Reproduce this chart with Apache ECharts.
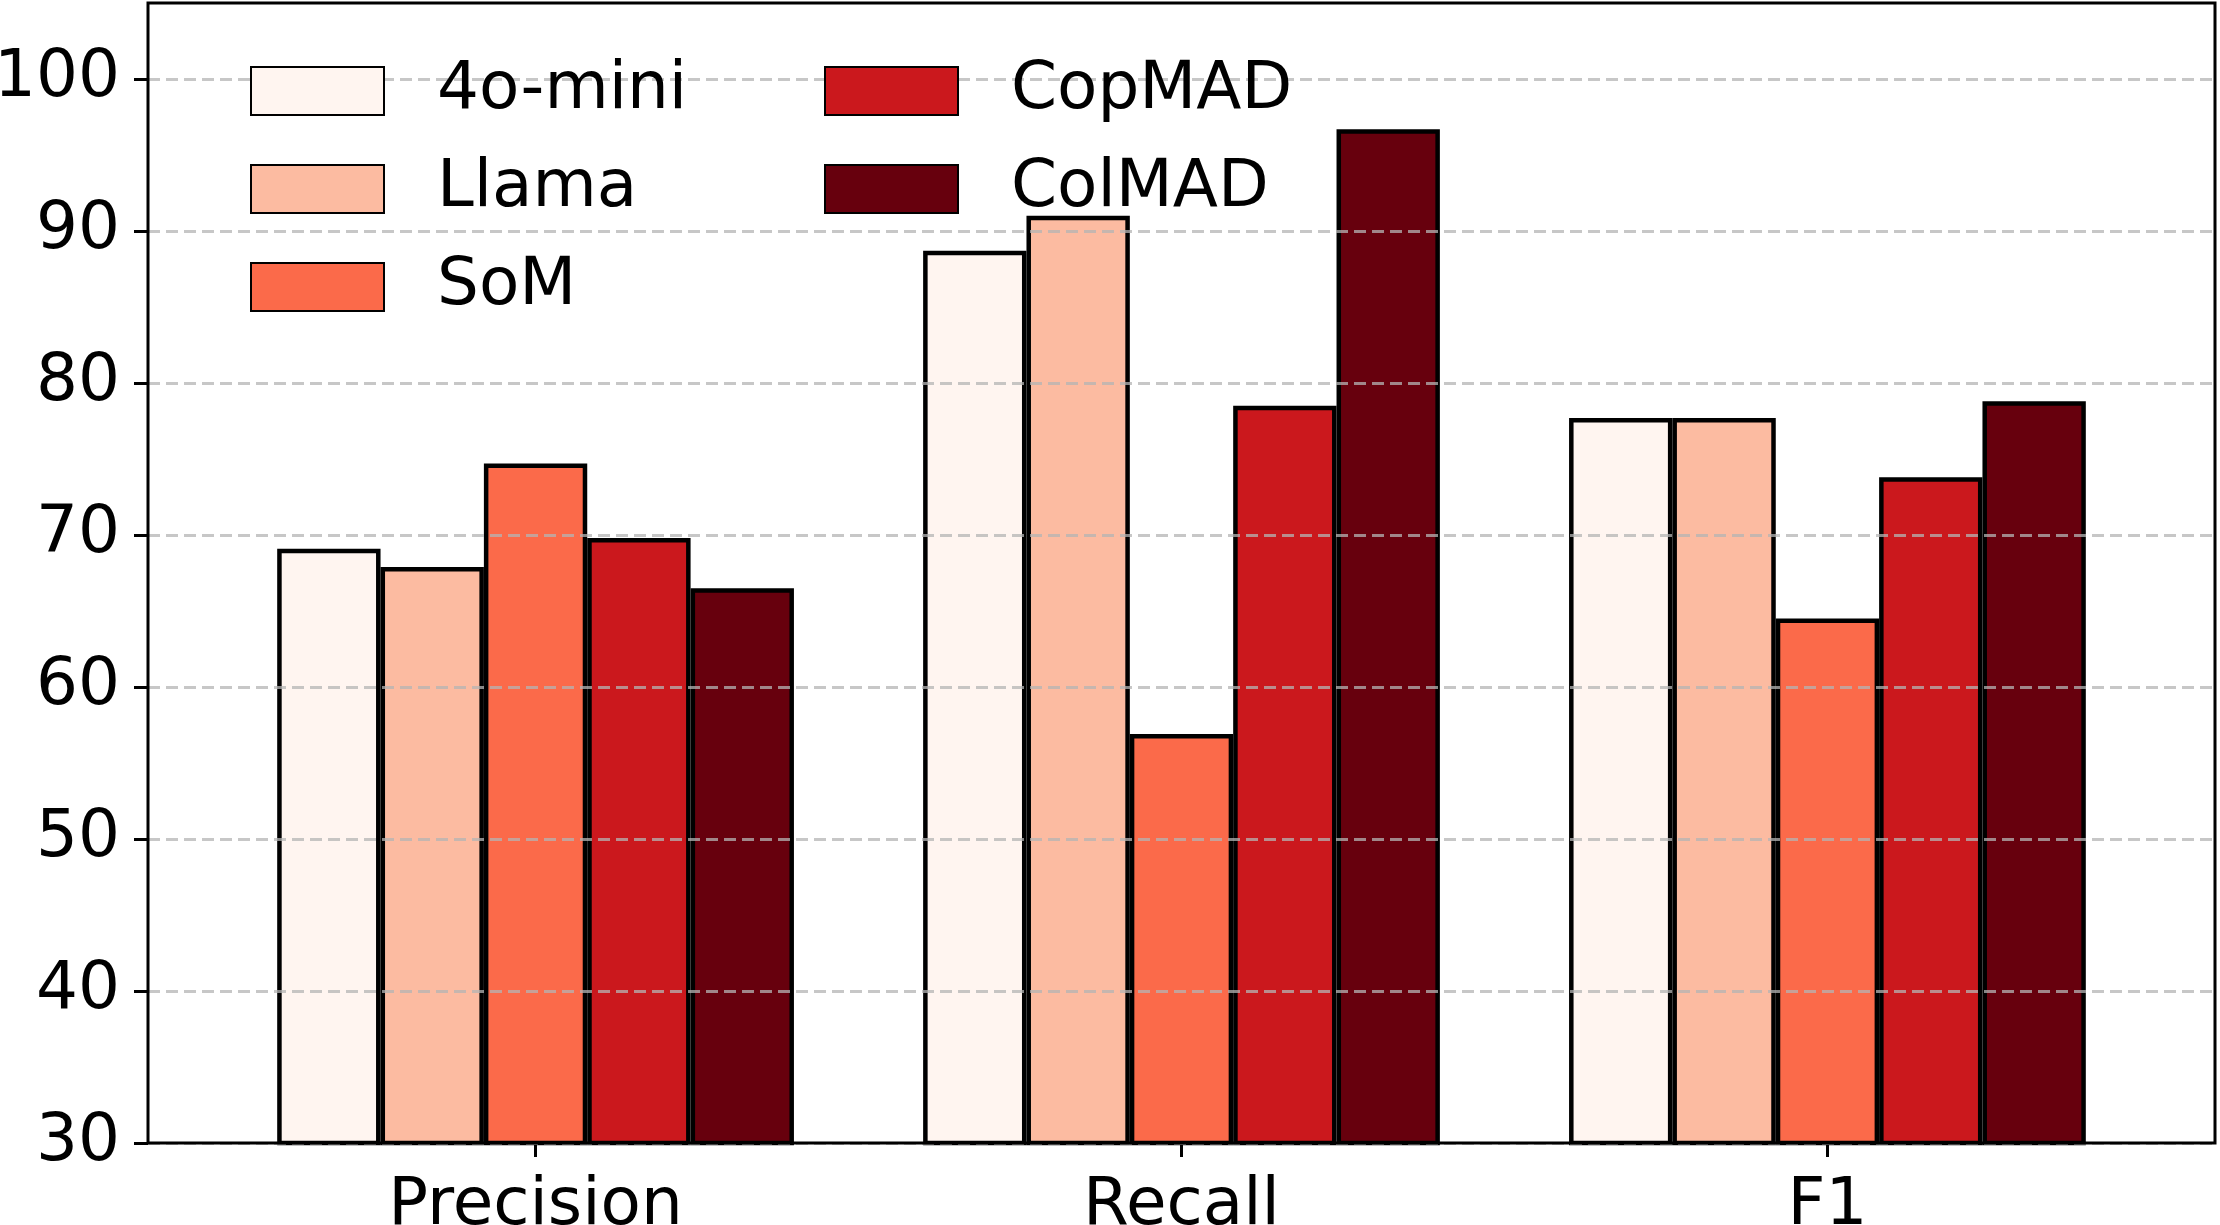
<!DOCTYPE html>
<html>
<head>
<meta charset="utf-8">
<script src="https://cdn.jsdelivr.net/npm/echarts@6/dist/echarts.min.js"></script>
<style>
html,body{margin:0;padding:0;background:#fff;}
#chart{width:2220px;height:1225px;}
</style>
</head>
<body>
<div id="chart"></div>
<script>
const categories = ['Precision', 'Recall', 'F1'];
const seriesNames = ['4o-mini', 'Llama', 'SoM', 'CopMAD', 'ColMAD'];
const vals4oMini = [69.1, 88.7, 77.7];
const valsLlama = [67.9, 91.0, 77.7];
const valsSoM = [74.7, 56.9, 64.5];
const valsCopMAD = [69.8, 78.5, 73.8];
const valsColMAD = [66.5, 96.7, 78.8];
const yTicks = [30, 40, 50, 60, 70, 80, 90, 100];
const colors = ['#fff5f0', '#fcbba1', '#fb6a4a', '#cb181d', '#67000d'];

const allVals = [vals4oMini, valsLlama, valsSoM, valsCopMAD, valsColMAD];
const FONT = 'DejaVu Sans';
const FS = 66;

const chart = echarts.init(document.getElementById('chart'), null, {renderer: 'canvas'});

const frame = {left: 148, right: 5, top: 3, bottom: 82};
const W = 2220;
const plotW = W - frame.left - frame.right;
const band = plotW / 3.2;

const legendCommon = {
  orient: 'vertical',
  top: 58,
  padding: 0,
  itemWidth: 133,
  itemHeight: 48,
  itemGap: 32,
  icon: 'rect',
  z: 10,
  textStyle: {fontFamily: FONT, fontSize: FS, color: '#000', padding: [0, 0, 0, 48]}
};

const option = {
  backgroundColor: '#fff',
  animation: false,
  textStyle: {fontFamily: FONT},
  grid: [
    {left: frame.left, right: frame.right, top: frame.top, bottom: frame.bottom,
     outerBoundsMode: 'none', containLabel: false, z: 6,
     show: true, borderColor: '#000', borderWidth: 3, backgroundColor: 'transparent'},
    {left: frame.left + 0.1 * band, right: frame.right + 0.1 * band, top: frame.top, bottom: frame.bottom,
     outerBoundsMode: 'none', containLabel: false}
  ],
  xAxis: [
    {type: 'value', gridIndex: 0, min: 0, max: 1, show: false},
    {type: 'category', gridIndex: 1, data: categories,
     axisLine: {show: false},
     axisTick: {show: true, alignWithLabel: true, length: 14, lineStyle: {color: '#000', width: 3}},
     axisLabel: {fontFamily: FONT, fontSize: FS, color: '#000', margin: 31}}
  ],
  yAxis: [
    {type: 'value', gridIndex: 0, min: 30, max: 105, interval: 10, z: 5,
     axisLine: {show: false},
     axisTick: {show: true, length: 14, lineStyle: {color: '#000', width: 3}, customValues: yTicks},
     axisLabel: {fontFamily: FONT, fontSize: FS, color: '#000', margin: 28, customValues: yTicks},
     splitLine: {show: true, lineStyle: {color: 'rgba(180,180,180,0.75)', width: 3, type: [12, 6]}}},
    {type: 'value', gridIndex: 1, min: 30, max: 105, show: false, splitLine: {show: false}}
  ],
  legend: [
    Object.assign({}, legendCommon, {left: 250, data: seriesNames.slice(0, 3)}),
    Object.assign({}, legendCommon, {left: 824, data: seriesNames.slice(3)})
  ],
  series: seriesNames.map((name, i) => ({
    name: name,
    type: 'bar',
    xAxisIndex: 1,
    yAxisIndex: 1,
    data: allVals[i],
    barGap: '0%',
    barCategoryGap: '20%',
    itemStyle: {color: colors[i], borderColor: '#000', borderWidth: 4.5},
    emphasis: {disabled: true}
  }))
};

chart.setOption(option);
</script>
</body>
</html>
